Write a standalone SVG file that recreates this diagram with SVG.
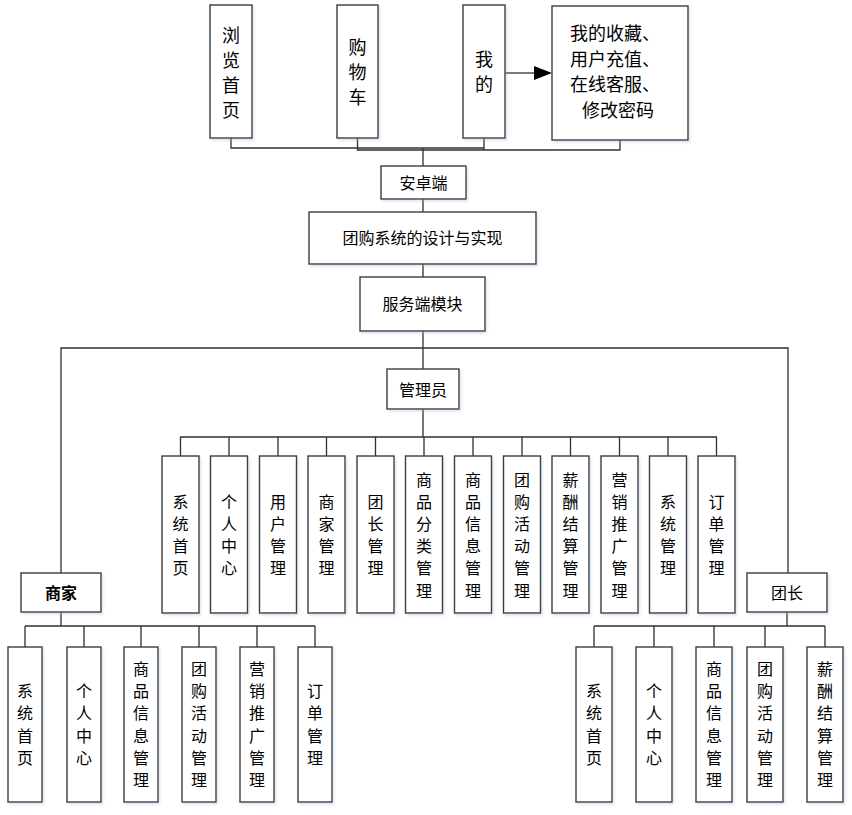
<svg xmlns="http://www.w3.org/2000/svg" width="852" height="815" viewBox="0 0 852 815">
<style>
.b{fill:#fff;stroke:#3c3c3c;stroke-width:1.4;filter:url(#sh)}
.c{fill:none;stroke:#303030;stroke-width:1.3}
.t{font-family:"Noto Sans CJK SC","Noto Sans CJK JP",sans-serif;font-size:16px;fill:#000;text-anchor:middle}
.l{font-size:18px}
.s{text-anchor:start}
</style>
<defs>
<filter id="sh" x="-20%" y="-20%" width="140%" height="140%">
<feDropShadow dx="1.5" dy="2" stdDeviation="1.2" flood-color="#9fb4d8" flood-opacity="0.35"/>
</filter>
</defs>
<g id="connectors">
<path class="c" d="M231,138V148H484 M357.5,138V150H620V140 M484,138V150 M423,148V166"/>
<path class="c" d="M505,73H536"/>
<polygon points="534,66 552,73 534,80" fill="#000"/>
<path class="c" d="M423,199V212 M423,264V277 M423,331V369"/>
<path class="c" d="M61,573V348H788V573"/>
<path class="c" d="M423,409V437 M180,437H717 M180.5,437V456 M229,437V456 M278,437V456 M326.5,437V456 M375.5,437V456 M424,437V456 M473,437V456 M522,437V456 M570.5,437V456 M619.5,437V456 M668,437V456 M716.5,437V456"/>
<path class="c" d="M61,612V626 M25,626H315 M25,626V647 M84,626V647 M141,626V647 M199,626V647 M257,626V647 M315,626V647"/>
<path class="c" d="M787,612V626 M594,626H825 M594,626V647 M654,626V647 M714,626V647 M765,626V647 M825,626V647"/>
</g>
<g id="n-liulan"><rect class="b" x="210" y="5" width="42" height="133"/><text class="t l"><tspan x="231" y="41.8">浏</tspan><tspan x="231" y="66.8">览</tspan><tspan x="231" y="91.8">首</tspan><tspan x="231" y="116.8">页</tspan></text></g>
<g id="n-cart"><rect class="b" x="337" y="5" width="41" height="133"/><text class="t l"><tspan x="357.5" y="53.8">购</tspan><tspan x="357.5" y="78.8">物</tspan><tspan x="357.5" y="103.8">车</tspan></text></g>
<g id="n-mine"><rect class="b" x="463" y="5" width="42" height="133"/><text class="t l"><tspan x="484" y="66">我</tspan><tspan x="484" y="91">的</tspan></text></g>
<g id="n-mine-detail"><rect class="b" x="552" y="6" width="136" height="134"/><text class="t l s"><tspan x="570" y="40">我的收藏、</tspan><tspan x="570" y="65.5">用户充值、</tspan><tspan x="570" y="91">在线客服、</tspan><tspan x="582" y="116.5">修改密码</tspan></text></g>
<g id="n-android"><rect class="b" x="381" y="166" width="85" height="33"/><text class="t" x="423.5" y="189">安卓端</text></g>
<g id="n-system"><rect class="b" x="309" y="212" width="227" height="52"/><text class="t" x="422.5" y="244">团购系统的设计与实现</text></g>
<g id="n-server"><rect class="b" x="360" y="277" width="125" height="54"/><text class="t" x="422.5" y="310">服务端模块</text></g>
<g id="n-admin"><rect class="b" x="387" y="369" width="72" height="40"/><text class="t" x="423" y="395.5">管理员</text></g>
<g id="n-merchant"><rect class="b" x="21" y="573" width="80" height="39"/><text class="t" x="61" y="599" font-weight="bold">商家</text></g>
<g id="n-leader"><rect class="b" x="747" y="573" width="80" height="39"/><text class="t" x="787" y="599">团长</text></g>

<g id="a1"><rect class="b" x="162" y="456" width="37" height="157"/><text class="t"><tspan x="180.5" y="507.7">系</tspan><tspan x="180.5" y="529.9">统</tspan><tspan x="180.5" y="552.1">首</tspan><tspan x="180.5" y="574.3">页</tspan></text></g>
<g id="a2"><rect class="b" x="210.5" y="456" width="37" height="157"/><text class="t"><tspan x="229" y="507.7">个</tspan><tspan x="229" y="529.9">人</tspan><tspan x="229" y="552.1">中</tspan><tspan x="229" y="574.3">心</tspan></text></g>
<g id="a3"><rect class="b" x="259.5" y="456" width="37" height="157"/><text class="t"><tspan x="278" y="507.7">用</tspan><tspan x="278" y="529.9">户</tspan><tspan x="278" y="552.1">管</tspan><tspan x="278" y="574.3">理</tspan></text></g>
<g id="a4"><rect class="b" x="308" y="456" width="37" height="157"/><text class="t"><tspan x="326.5" y="507.7">商</tspan><tspan x="326.5" y="529.9">家</tspan><tspan x="326.5" y="552.1">管</tspan><tspan x="326.5" y="574.3">理</tspan></text></g>
<g id="a5"><rect class="b" x="357" y="456" width="37" height="157"/><text class="t"><tspan x="375.5" y="507.7">团</tspan><tspan x="375.5" y="529.9">长</tspan><tspan x="375.5" y="552.1">管</tspan><tspan x="375.5" y="574.3">理</tspan></text></g>
<g id="a6"><rect class="b" x="405.5" y="456" width="37" height="157"/><text class="t"><tspan x="424" y="485.5">商</tspan><tspan x="424" y="507.7">品</tspan><tspan x="424" y="529.9">分</tspan><tspan x="424" y="552.1">类</tspan><tspan x="424" y="574.3">管</tspan><tspan x="424" y="596.5">理</tspan></text></g>
<g id="a7"><rect class="b" x="454.5" y="456" width="37" height="157"/><text class="t"><tspan x="473" y="485.5">商</tspan><tspan x="473" y="507.7">品</tspan><tspan x="473" y="529.9">信</tspan><tspan x="473" y="552.1">息</tspan><tspan x="473" y="574.3">管</tspan><tspan x="473" y="596.5">理</tspan></text></g>
<g id="a8"><rect class="b" x="503.5" y="456" width="37" height="157"/><text class="t"><tspan x="522" y="485.5">团</tspan><tspan x="522" y="507.7">购</tspan><tspan x="522" y="529.9">活</tspan><tspan x="522" y="552.1">动</tspan><tspan x="522" y="574.3">管</tspan><tspan x="522" y="596.5">理</tspan></text></g>
<g id="a9"><rect class="b" x="552" y="456" width="37" height="157"/><text class="t"><tspan x="570.5" y="485.5">薪</tspan><tspan x="570.5" y="507.7">酬</tspan><tspan x="570.5" y="529.9">结</tspan><tspan x="570.5" y="552.1">算</tspan><tspan x="570.5" y="574.3">管</tspan><tspan x="570.5" y="596.5">理</tspan></text></g>
<g id="a10"><rect class="b" x="601" y="456" width="37" height="157"/><text class="t"><tspan x="619.5" y="485.5">营</tspan><tspan x="619.5" y="507.7">销</tspan><tspan x="619.5" y="529.9">推</tspan><tspan x="619.5" y="552.1">广</tspan><tspan x="619.5" y="574.3">管</tspan><tspan x="619.5" y="596.5">理</tspan></text></g>
<g id="a11"><rect class="b" x="649.5" y="456" width="37" height="157"/><text class="t"><tspan x="668" y="507.7">系</tspan><tspan x="668" y="529.9">统</tspan><tspan x="668" y="552.1">管</tspan><tspan x="668" y="574.3">理</tspan></text></g>
<g id="a12"><rect class="b" x="698" y="456" width="37" height="157"/><text class="t"><tspan x="716.5" y="507.7">订</tspan><tspan x="716.5" y="529.9">单</tspan><tspan x="716.5" y="552.1">管</tspan><tspan x="716.5" y="574.3">理</tspan></text></g>

<g id="m1"><rect class="b" x="8" y="647" width="34" height="155"/><text class="t"><tspan x="25" y="697.2">系</tspan><tspan x="25" y="719.4">统</tspan><tspan x="25" y="741.6">首</tspan><tspan x="25" y="763.8">页</tspan></text></g>
<g id="m2"><rect class="b" x="67" y="647" width="34" height="155"/><text class="t"><tspan x="84" y="697.2">个</tspan><tspan x="84" y="719.4">人</tspan><tspan x="84" y="741.6">中</tspan><tspan x="84" y="763.8">心</tspan></text></g>
<g id="m3"><rect class="b" x="124" y="647" width="34" height="155"/><text class="t"><tspan x="141" y="675">商</tspan><tspan x="141" y="697.2">品</tspan><tspan x="141" y="719.4">信</tspan><tspan x="141" y="741.6">息</tspan><tspan x="141" y="763.8">管</tspan><tspan x="141" y="786">理</tspan></text></g>
<g id="m4"><rect class="b" x="182" y="647" width="34" height="155"/><text class="t"><tspan x="199" y="675">团</tspan><tspan x="199" y="697.2">购</tspan><tspan x="199" y="719.4">活</tspan><tspan x="199" y="741.6">动</tspan><tspan x="199" y="763.8">管</tspan><tspan x="199" y="786">理</tspan></text></g>
<g id="m5"><rect class="b" x="240" y="647" width="34" height="155"/><text class="t"><tspan x="257" y="675">营</tspan><tspan x="257" y="697.2">销</tspan><tspan x="257" y="719.4">推</tspan><tspan x="257" y="741.6">广</tspan><tspan x="257" y="763.8">管</tspan><tspan x="257" y="786">理</tspan></text></g>
<g id="m6"><rect class="b" x="298" y="647" width="34" height="155"/><text class="t"><tspan x="315" y="697.2">订</tspan><tspan x="315" y="719.4">单</tspan><tspan x="315" y="741.6">管</tspan><tspan x="315" y="763.8">理</tspan></text></g>

<g id="l1"><rect class="b" x="576" y="647" width="36" height="155"/><text class="t"><tspan x="594" y="697.2">系</tspan><tspan x="594" y="719.4">统</tspan><tspan x="594" y="741.6">首</tspan><tspan x="594" y="763.8">页</tspan></text></g>
<g id="l2"><rect class="b" x="636" y="647" width="36" height="155"/><text class="t"><tspan x="654" y="697.2">个</tspan><tspan x="654" y="719.4">人</tspan><tspan x="654" y="741.6">中</tspan><tspan x="654" y="763.8">心</tspan></text></g>
<g id="l3"><rect class="b" x="696" y="647" width="36" height="155"/><text class="t"><tspan x="714" y="675">商</tspan><tspan x="714" y="697.2">品</tspan><tspan x="714" y="719.4">信</tspan><tspan x="714" y="741.6">息</tspan><tspan x="714" y="763.8">管</tspan><tspan x="714" y="786">理</tspan></text></g>
<g id="l4"><rect class="b" x="747" y="647" width="36" height="155"/><text class="t"><tspan x="765" y="675">团</tspan><tspan x="765" y="697.2">购</tspan><tspan x="765" y="719.4">活</tspan><tspan x="765" y="741.6">动</tspan><tspan x="765" y="763.8">管</tspan><tspan x="765" y="786">理</tspan></text></g>
<g id="l5"><rect class="b" x="807" y="647" width="36" height="155"/><text class="t"><tspan x="825" y="675">薪</tspan><tspan x="825" y="697.2">酬</tspan><tspan x="825" y="719.4">结</tspan><tspan x="825" y="741.6">算</tspan><tspan x="825" y="763.8">管</tspan><tspan x="825" y="786">理</tspan></text></g>
</svg>
